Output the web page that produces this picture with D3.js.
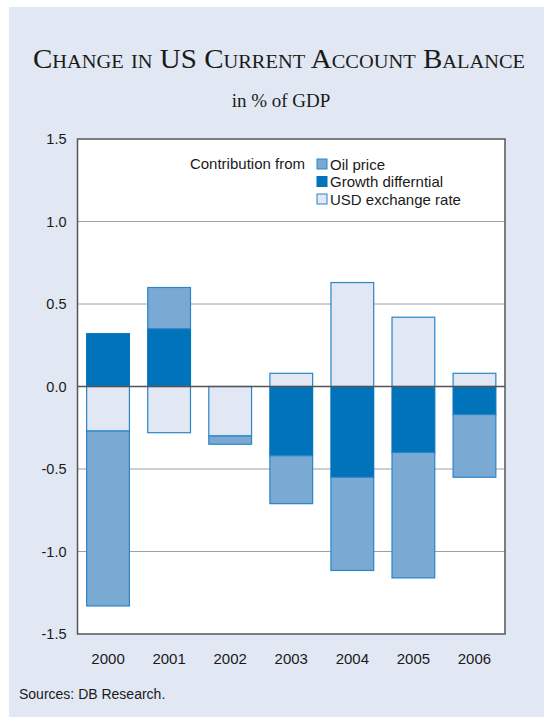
<!DOCTYPE html>
<html><head><meta charset="utf-8">
<script src="https://cdn.jsdelivr.net/npm/d3@7"></script>
<style>
html,body{margin:0;padding:0;background:#fff;}
svg{display:block;}
</style>
</head><body>
<svg id="chart" width="544" height="717"></svg>
<script>
const years = ["2000","2001","2002","2003","2004","2005","2006"];
const oilPrice = [-1.06, 0.25, -0.05, -0.29, -0.565, -0.76, -0.38];
const growthDiff = [0.32, 0.35, 0.0, -0.42, -0.55, -0.40, -0.17];
const usdRate = [-0.27, -0.28, -0.30, 0.08, 0.63, 0.42, 0.08];
const yTicks = [1.5, 1.0, 0.5, 0.0, -0.5, -1.0, -1.5];
const seriesNames = ["Oil price", "Growth differntial", "USD exchange rate"];

const svg = d3.select("#chart");
const W = 544, H = 717;
const m = {left: 77.5, right: 505, top: 139, bottom: 634};
const sans = "Liberation Sans, Arial, sans-serif";

svg.append("rect").attr("x", 9).attr("y", 7).attr("width", W - 9).attr("height", H - 7).attr("fill", "#e1e8f3");

svg.append("text").attr("x", 279).attr("y", 68).attr("text-anchor", "middle")
  .attr("font-family", "Liberation Serif, Times New Roman, serif").attr("font-size", 27)
  .style("font-variant", "small-caps").attr("fill", "#1a1a1a")
  .attr("textLength", 492).attr("lengthAdjust", "spacingAndGlyphs")
  .text("Change in US Current Account Balance");
svg.append("text").attr("x", 281).attr("y", 107).attr("text-anchor", "middle")
  .attr("font-family", "Liberation Serif, Times New Roman, serif").attr("font-size", 19)
  .attr("fill", "#1a1a1a").text("in % of GDP");

const x = d3.scaleBand().domain(years).range([m.left, m.right]).paddingInner(0.3).paddingOuter(0.15);
const y = d3.scaleLinear().domain([-1.5, 1.5]).range([m.bottom, m.top]);

svg.append("rect").attr("x", m.left).attr("y", m.top).attr("width", m.right - m.left).attr("height", m.bottom - m.top).attr("fill", "#fff");

// gridlines
svg.append("g").selectAll("line").data(yTicks.filter(d => d !== 0 && Math.abs(d) !== 1.5)).join("line")
  .attr("x1", m.left).attr("x2", m.right).attr("y1", d => y(d)).attr("y2", d => y(d))
  .attr("stroke", "#9aa0a6").attr("stroke-width", 1);

const data = years.map((yr, i) => ({year: yr, growth: growthDiff[i], usd: usdRate[i], oil: oilPrice[i]}));
const keys = ["growth", "usd", "oil"];
const stack = d3.stack().keys(keys).offset(d3.stackOffsetDiverging)(data);
const fills = {oil: "#7aaad4", growth: "#0073bb", usd: "#e1e8f3"};
const strokes = {oil: "#2a85c7", growth: "#0073bb", usd: "#2a85c7"};

svg.append("g").selectAll("g").data(stack).join("g")
  .each(function(s) {
    d3.select(this).selectAll("rect").data(s.filter(d => Math.abs(d[1] - d[0]) > 1e-9)).join("rect")
      .attr("x", d => x(d.data.year))
      .attr("width", x.bandwidth())
      .attr("y", d => y(Math.max(d[0], d[1])))
      .attr("height", d => Math.abs(y(d[0]) - y(d[1])))
      .attr("fill", fills[s.key])
      .attr("stroke", strokes[s.key]).attr("stroke-width", 1.2);
  });

// zero line
svg.append("line").attr("x1", m.left).attr("x2", m.right).attr("y1", y(0)).attr("y2", y(0))
  .attr("stroke", "#555").attr("stroke-width", 1.5);

// frame
svg.append("rect").attr("x", m.left).attr("y", m.top).attr("width", m.right - m.left).attr("height", m.bottom - m.top)
  .attr("fill", "none").attr("stroke", "#555").attr("stroke-width", 1.5);

// y axis labels
const yAxis = d3.axisLeft(y).tickValues(yTicks).tickSize(0).tickPadding(11)
  .tickFormat(d => d3.format(".1f")(d).replace("\u2212", "-"));
const ya = svg.append("g").attr("transform", `translate(${m.left},0)`).call(yAxis);
ya.select(".domain").remove();
ya.selectAll("text").attr("font-family", sans).attr("font-size", 14.5).attr("fill", "#1a1a1a");

const xAxis = d3.axisBottom(x).tickSize(0).tickPadding(19);
const xa = svg.append("g").attr("transform", `translate(0,${m.bottom})`).call(xAxis);
xa.select(".domain").remove();
xa.selectAll("text").attr("font-family", sans).attr("font-size", 15).attr("fill", "#1a1a1a");

// legend
const lg = svg.append("g").attr("font-family", sans).attr("font-size", 15).attr("fill", "#1a1a1a");
lg.append("text").attr("x", 305).attr("y", 169).attr("text-anchor", "end").text("Contribution from");
const legKeys = ["oil", "growth", "usd"];
legKeys.forEach((k, i) => {
  const cy = 164 + i * 17.5;
  lg.append("rect").attr("x", 317).attr("y", cy - 5).attr("width", 10).attr("height", 10)
    .attr("fill", fills[k]).attr("stroke", strokes[k]).attr("stroke-width", 1);
  lg.append("text").attr("x", 330).attr("y", cy + 5.5).text(seriesNames[i]);
});

svg.append("text").attr("x", 19).attr("y", 699).attr("font-family", sans)
  .attr("font-size", 14).attr("fill", "#1a1a1a").text("Sources: DB Research.");
</script>
</body></html>
